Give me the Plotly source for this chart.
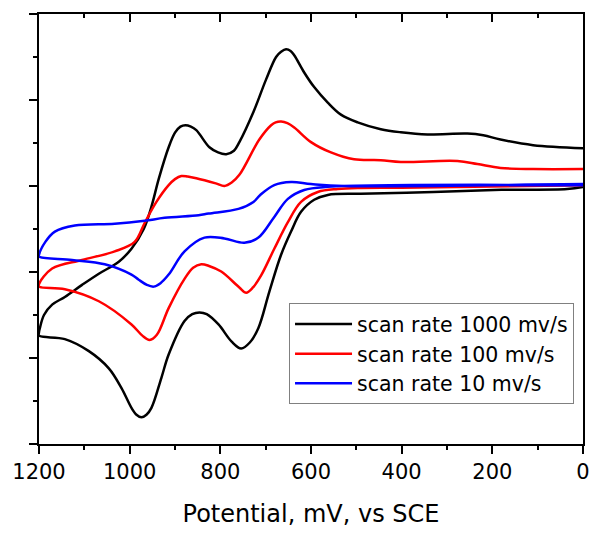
import plotly.graph_objects as go

# potential (mV vs SCE) and current (arbitrary units)
# each scan: forward branch 0 -> 1200 mV, then return branch 1200 -> 0 mV
fast_fwd_x = [0, 35, 180, 330, 490, 563, 593, 622, 644, 666, 692, 716, 735, 754, 775, 804, 830, 846, 862, 879, 914, 930, 952, 963, 974, 985, 996, 1018, 1046, 1090, 1143, 1200]
fast_fwd_y = [-0.1, -0.35, -0.45, -0.7, -0.9, -1.04, -1.6, -3.0, -5.3, -8.0, -12.3, -16.5, -18.2, -18.9, -18.1, -16.1, -14.9, -14.7, -14.9, -15.7, -19.6, -22.3, -25.8, -26.6, -26.9, -26.6, -25.8, -23.5, -21.2, -19.2, -17.8, -17.4]
fast_rev_x = [1200, 1198, 1189, 1171, 1143, 1105, 1068, 1024, 996, 969, 952, 936, 914, 900, 888, 877, 865, 853, 824, 805, 787, 770, 758, 727, 699, 677, 666, 655, 645, 637, 615, 593, 563, 534, 497, 446, 402, 343, 255, 220, 182, 110, 0]
fast_rev_y = [-17.0, -16.5, -15.0, -13.8, -12.9, -11.5, -10.2, -8.8, -7.3, -5.0, -2.4, 0.8, 4.5, 6.2, 6.9, 7.06, 6.9, 6.5, 4.5, 3.9, 3.7, 4.1, 5.1, 8.6, 12.4, 15.0, 15.6, 15.9, 15.7, 15.2, 13.2, 11.5, 9.7, 8.3, 7.4, 6.6, 6.25, 6.0, 6.1, 5.9, 5.4, 4.75, 4.4]

mid_fwd_x = [0, 400, 490, 541, 585, 622, 651, 681, 710, 728, 743, 758, 798, 825, 842, 860, 879, 914, 940, 956, 972, 996, 1068, 1143, 1200]
mid_fwd_y = [0.1, -0.2, -0.23, -0.35, -0.7, -1.85, -4.2, -7.3, -10.4, -11.8, -12.4, -11.8, -9.95, -9.3, -9.1, -9.5, -10.8, -14.2, -17.3, -17.9, -17.4, -16.1, -13.4, -12.0, -11.7]
mid_rev_x = [1200, 1171, 1105, 1033, 989, 967, 941, 914, 900, 886, 872, 853, 810, 791, 775, 758, 714, 688, 678, 666, 652, 637, 600, 556, 505, 446, 402, 277, 233, 182, 110, 0]
mid_rev_y = [-11.4, -9.6, -8.6, -7.6, -6.5, -4.3, -1.85, 0.1, 0.8, 1.16, 1.1, 0.9, 0.3, 0.0, 0.4, 1.3, 5.4, 7.06, 7.4, 7.5, 7.3, 6.8, 5.1, 3.9, 3.1, 3.0, 2.8, 2.9, 2.55, 2.1, 1.97, 1.97]

slow_fwd_x = [0, 563, 615, 651, 681, 716, 747, 791, 835, 879, 914, 932, 947, 962, 980, 996, 1055, 1127, 1200]
slow_fwd_y = [0.1, -0.1, -0.46, -1.5, -3.6, -6.0, -6.6, -6.1, -6.0, -7.6, -10.3, -11.3, -11.7, -11.5, -10.9, -10.3, -9.1, -8.6, -8.2]
slow_rev_x = [1200, 1186, 1165, 1121, 1033, 967, 923, 848, 826, 760, 727, 712, 681, 644, 600, 527, 0]
slow_rev_y = [-8.0, -6.5, -5.3, -4.6, -4.4, -4.05, -3.7, -3.4, -3.2, -2.66, -1.85, -1.04, 0.1, 0.46, 0.23, 0.0, 0.23]

scans = [
    ("scan rate 1000 mv/s", fast_fwd_x + fast_rev_x, fast_fwd_y + fast_rev_y, "black"),
    ("scan rate 100 mv/s", mid_fwd_x + mid_rev_x, mid_fwd_y + mid_rev_y, "#ff0000"),
    ("scan rate 10 mv/s", slow_fwd_x + slow_rev_x, slow_fwd_y + slow_rev_y, "#0000ff"),
]

FONT = "DejaVu Sans"

fig = go.Figure()
for name, xs, ys, color in scans:
    fig.add_trace(go.Scatter(
        x=xs, y=ys, name=name, mode="lines",
        line=dict(color=color, width=2.5, shape="spline", smoothing=1.0),
    ))

# invisible trace just to carry the top axis with inward ticks
fig.add_trace(go.Scatter(x=[1200, 0], y=[0, 0], xaxis="x2", mode="lines",
                         line=dict(width=0), showlegend=False, hoverinfo="skip"))

# the page body adds an 8px margin, so the figure is 8px smaller than the window
fig.update_layout(
    width=594, height=525,
    margin=dict(l=29, r=19, t=4, b=89),
    paper_bgcolor="white", plot_bgcolor="white",
    font=dict(family=FONT, size=21, color="black"),
    showlegend=True,
    legend=dict(
        x=0.9835, y=0.0926, xanchor="right", yanchor="bottom",
        bgcolor="white", bordercolor="#808080", borderwidth=1,
        font=dict(family=FONT, size=20.5), itemwidth=57,
        tracegroupgap=0,
    ),
    xaxis=dict(
        range=[1200, 0], dtick=200, tick0=0,
        showline=True, linecolor="black", linewidth=2, mirror=True,
        ticks="outside", ticklen=8, tickwidth=2, tickcolor="black",
        minor=dict(ticks="outside", dtick=100, ticklen=4, tickwidth=2, tickcolor="black"),
        showgrid=False, zeroline=False,
        tickfont=dict(family=FONT, size=21),
        title=dict(text="Potential, mV, vs SCE", font=dict(family=FONT, size=24), standoff=22),
    ),
    xaxis2=dict(
        overlaying="x", side="top", range=[1200, 0], dtick=200, tick0=0,
        showline=False, ticks="inside", ticklen=8, tickwidth=2, tickcolor="black",
        minor=dict(ticks="inside", dtick=100, ticklen=4, tickwidth=2, tickcolor="black"),
        showticklabels=False, showgrid=False, zeroline=False,
    ),
    yaxis=dict(
        range=[-30, 20], dtick=10, tick0=0,
        showline=True, linecolor="black", linewidth=2, mirror=True,
        ticks="outside", ticklen=8, tickwidth=2, tickcolor="black",
        minor=dict(ticks="outside", dtick=5, ticklen=4, tickwidth=2, tickcolor="black"),
        showticklabels=False, showgrid=False, zeroline=False,
    ),
)

fig.write_html("out.html")
